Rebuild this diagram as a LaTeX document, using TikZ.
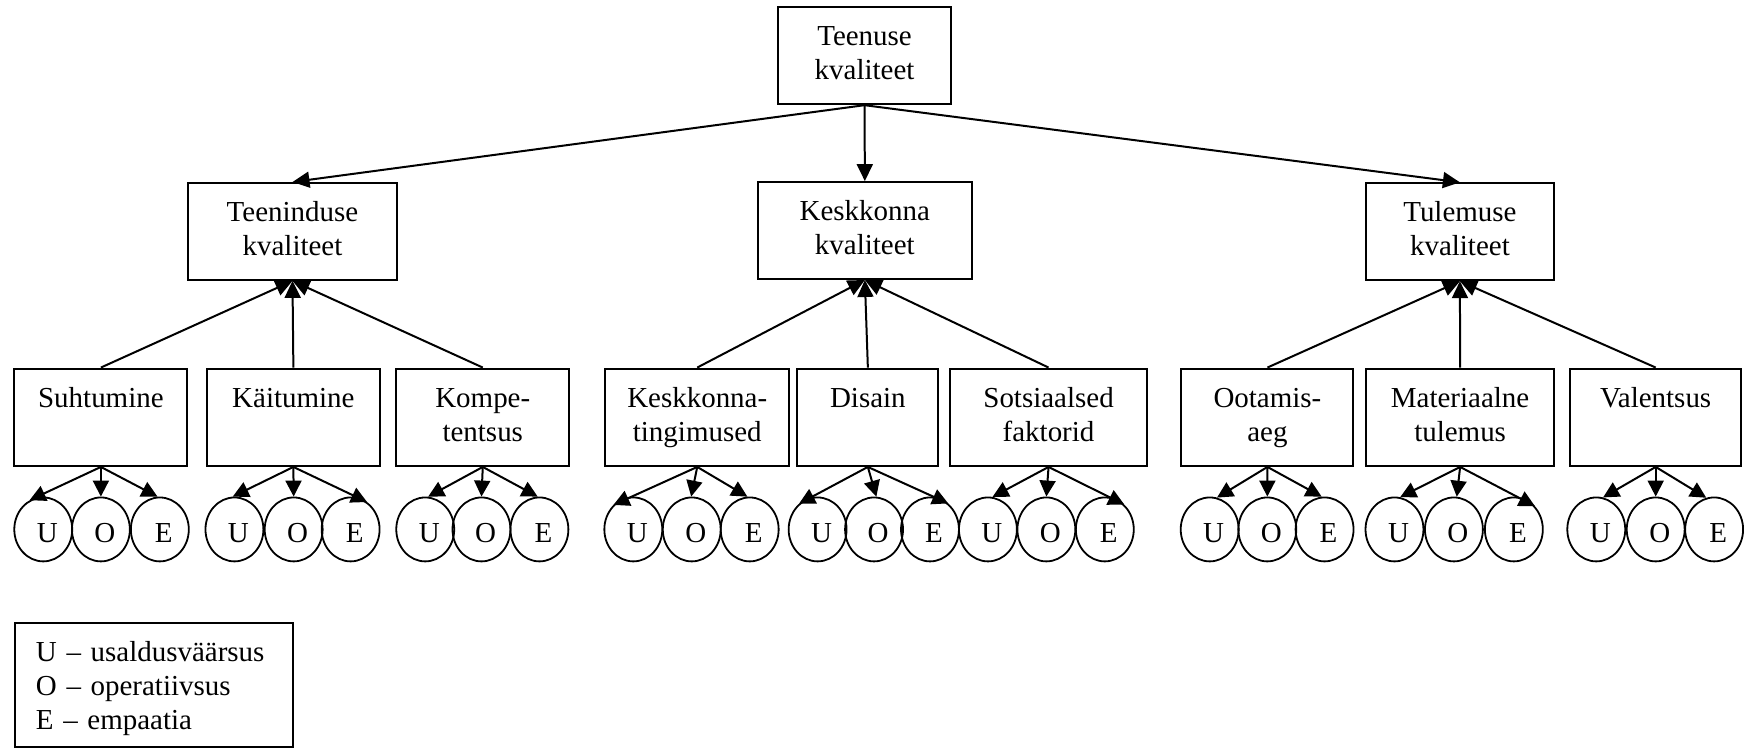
\documentclass[tikz,border=0pt]{standalone}
\usepackage{fontspec}
\setmainfont{Liberation Serif}
\usetikzlibrary{arrows.meta,shapes.geometric}

% three U/O/E ellipses under a box, with arrows from the box
\newcommand\uoetrio[7]{%
  \node[letter] (#1u) at (#2,530) {\hspace*{4pt}U};
  \node[letter] (#1o) at (#3,530) {\hspace*{4pt}O};
  \node[letter] (#1e) at (#4,530) {\hspace*{4pt}E};
  \draw[sarr] (#1.south) -- (#1u.#5);
  \draw[sarr] (#1.south) -- (#1o.#6);
  \draw[sarr] (#1.south) -- (#1e.#7);
}

\begin{document}
\begin{tikzpicture}[x=0.5pt,y=-0.5pt,
  every node/.style={font=\fontsize{14.5}{17}\selectfont},
  box/.style={draw, line width=1pt, align=center, inner sep=0pt, minimum height=48.75pt},
  letter/.style={ellipse, draw, line width=0.9pt, minimum width=29pt, minimum height=32pt,
                 inner sep=0pt, text height=12.6pt, text depth=0pt},
  arr/.style={-{Triangle[length=8.5pt,width=8pt]}, line width=1pt},
  sarr/.style={-{Triangle[length=8pt,width=8pt]}, line width=1pt}]

\fill[white] (0,0) rectangle (1744,750);

% top level
\node[box, minimum width=86.2pt, minimum height=48.8pt] (T) at (865.5,55.5)
  {\strut Teenuse\\\strut kvaliteet};

% second level
\node[box, minimum width=104.5pt, minimum height=48.5pt] (A) at (292.8,231.7)
  {\strut Teeninduse\\\strut kvaliteet};
\node[box, minimum width=106.85pt, minimum height=48.5pt] (B) at (865.8,230.8)
  {\strut Keskkonna\\\strut kvaliteet};
\node[box, minimum width=94.2pt, minimum height=48.5pt] (C) at (1461.5,232)
  {\strut Tulemuse\\\strut kvaliteet};

\draw[arr] (T.south) -- (A.north);
\draw[arr] (T.south) -- (B.north);
\draw[arr] (T.south) -- (C.north);

% third level
\node[box, minimum width=86.7pt]  (a1) at (101,417.7)    {\strut Suhtumine\\\strut};
\node[box, minimum width=86.35pt] (a2) at (293.7,417.7)  {\strut Käitumine\\\strut};
\node[box, minimum width=86.65pt] (a3) at (483.3,417.7)  {\strut Kompe-\\\strut tentsus};
\node[box, minimum width=92pt]    (b1) at (698,417.7)    {\strut Keskkonna-\\\strut tingimused};
\node[box, minimum width=70.5pt]  (b2) at (868.8,417.7)  {\strut Disain\\\strut};
\node[box, minimum width=98.65pt] (b3) at (1049.7,417.7) {\strut Sotsiaalsed\\\strut faktorid};
\node[box, minimum width=86.15pt] (c1) at (1268.8,417.7) {\strut Ootamis-\\\strut aeg};
\node[box, minimum width=94.35pt] (c2) at (1461.7,417.7) {\strut Materiaalne\\\strut tulemus};
\node[box, minimum width=85.8pt]  (c3) at (1657.5,417.7) {\strut Valentsus\\\strut};

\foreach \k in {a1,a2,a3} \draw[arr] (\k.north) -- (A.south);
\foreach \k in {b1,b2,b3} \draw[arr] (\k.north) -- (B.south);
\foreach \k in {c1,c2,c3} \draw[arr] (\k.north) -- (C.south);

% U/O/E groups
\uoetrio{a1}{43.3}{101}{160}{115}{90}{94}
\uoetrio{a2}{234.7}{294}{351}{93}{90}{59}
\uoetrio{a3}{425.7}{482}{540}{85}{90}{93}
\uoetrio{b1}{634}{692.5}{750.5}{129}{91}{94}
\uoetrio{b2}{818.5}{875}{931}{126}{86}{55}
\uoetrio{b3}{989}{1047.5}{1106}{82}{90}{52}
\uoetrio{c1}{1211}{1268.7}{1326}{77}{90}{95}
\uoetrio{c2}{1396}{1455.5}{1515.5}{80}{85}{48}
\uoetrio{c3}{1598}{1657.5}{1716}{78}{90}{104}

% legend
\node[draw, line width=1pt, anchor=north west, inner xsep=10.5pt, inner ysep=0pt,
      text width=118.15pt, minimum height=62.3pt, align=left] (legend) at (14,622.7)
  {\rule{0pt}{14.9pt}U – usaldusväärsus\\\strut O – operatiivsus\\\strut E – empaatia};

\end{tikzpicture}
\end{document}
